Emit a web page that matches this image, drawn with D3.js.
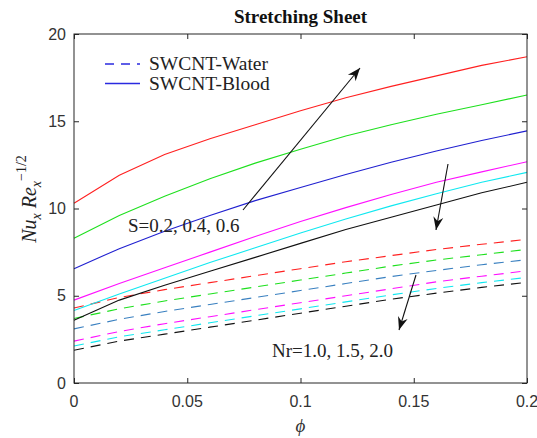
<!DOCTYPE html>
<html>
<head>
<meta charset="utf-8">
<script src="https://cdn.jsdelivr.net/npm/d3@7"></script>
<style>
  body { margin: 0; background: #fff; }
  svg { display: block; }
</style>
</head>
<body>
<div id="chart"></div>
<script>
// volume fraction values along the x axis
const phi = [0, 0.02, 0.04, 0.06, 0.08, 0.1, 0.12, 0.14, 0.16, 0.18, 0.2];

// SWCNT-Blood (solid lines)
const bloodRed     = [10.3, 11.9, 13.1, 14.0, 14.8, 15.6, 16.35, 17.0, 17.6, 18.2, 18.7];
const bloodGreen   = [8.3, 9.6, 10.7, 11.7, 12.6, 13.4, 14.15, 14.8, 15.4, 15.95, 16.5];
const bloodBlue    = [6.55, 7.7, 8.7, 9.6, 10.45, 11.2, 11.95, 12.65, 13.3, 13.9, 14.45];
const bloodMagenta = [4.75, 5.7, 6.6, 7.5, 8.4, 9.25, 10.05, 10.8, 11.5, 12.1, 12.68];
const bloodCyan    = [4.15, 5.1, 6.0, 6.9, 7.75, 8.6, 9.4, 10.15, 10.85, 11.5, 12.07];
const bloodBlack   = [3.6, 4.75, 5.6, 6.4, 7.2, 8.0, 8.8, 9.5, 10.2, 10.9, 11.5];

// SWCNT-Water (dashed lines)
const waterRed     = [4.3, 4.9, 5.35, 5.75, 6.15, 6.55, 6.95, 7.3, 7.65, 7.95, 8.23];
const waterGreen   = [3.7, 4.25, 4.7, 5.1, 5.5, 5.9, 6.3, 6.7, 7.05, 7.35, 7.66];
const waterBlue    = [3.1, 3.65, 4.1, 4.5, 4.9, 5.3, 5.7, 6.1, 6.45, 6.78, 7.07];
const waterMagenta = [2.4, 2.95, 3.4, 3.8, 4.2, 4.6, 5.0, 5.4, 5.8, 6.12, 6.43];
const waterCyan    = [2.12, 2.65, 3.05, 3.45, 3.85, 4.25, 4.65, 5.05, 5.42, 5.75, 6.05];
const waterBlack   = [1.88, 2.4, 2.8, 3.2, 3.6, 4.0, 4.4, 4.8, 5.15, 5.48, 5.77];

const xTicks = [0, 0.05, 0.1, 0.15, 0.2];
const xTickLabels = ["0", "0.05", "0.1", "0.15", "0.2"];
const yTicks = [0, 5, 10, 15, 20];

const legendLabels = ["SWCNT-Water", "SWCNT-Blood"];

const width = 537, height = 438;
const margin = { top: 34, right: 10, bottom: 55, left: 74 };

const series = [
  { values: waterRed, color: "#ff2020", dashed: true },
  { values: waterGreen, color: "#1ee01e", dashed: true },
  { values: waterBlue, color: "#3a80c0", dashed: true },
  { values: waterMagenta, color: "#ff10ff", dashed: true },
  { values: waterCyan, color: "#10e8f0", dashed: true },
  { values: waterBlack, color: "#111111", dashed: true },
  { values: bloodRed, color: "#ff2020", dashed: false },
  { values: bloodGreen, color: "#1ee01e", dashed: false },
  { values: bloodBlue, color: "#2020d0", dashed: false },
  { values: bloodMagenta, color: "#ff10ff", dashed: false },
  { values: bloodCyan, color: "#10e8f0", dashed: false },
  { values: bloodBlack, color: "#111111", dashed: false }
];

const svg = d3.select("#chart")
  .append("svg")
  .attr("width", width)
  .attr("height", height);

const xScale = d3.scaleLinear()
  .domain([0, 0.2])
  .range([margin.left, width - margin.right]);

const yScale = d3.scaleLinear()
  .domain([0, 20])
  .range([height - margin.bottom, margin.top]);

const serif = "'Liberation Serif', 'Times New Roman', serif";
const sans = "'Liberation Sans', Arial, sans-serif";
const axisColor = "#262626";

// curves
const line = d3.line()
  .x((d, i) => xScale(phi[i]))
  .y(d => yScale(d));

svg.selectAll(".curve")
  .data(series)
  .enter().append("path")
  .attr("class", "curve")
  .attr("d", d => line(d.values))
  .attr("fill", "none")
  .attr("stroke", d => d.color)
  .attr("stroke-width", 1.1)
  .attr("stroke-dasharray", d => d.dashed ? "10,7" : null);

// box axes with inward ticks on all sides
const x0 = xScale.range()[0], x1 = xScale.range()[1];
const y0 = yScale.range()[0], y1 = yScale.range()[1];

svg.append("g")
  .attr("transform", `translate(0,${y0})`)
  .call(d3.axisTop(xScale).tickValues(xTicks).tickSize(5).tickFormat(""))
  .call(g => g.select(".domain").remove());
svg.append("g")
  .attr("transform", `translate(0,${y1})`)
  .call(d3.axisBottom(xScale).tickValues(xTicks).tickSize(5).tickFormat(""))
  .call(g => g.select(".domain").remove());
svg.append("g")
  .attr("transform", `translate(${x0},0)`)
  .call(d3.axisRight(yScale).tickValues(yTicks).tickSize(5).tickFormat(""))
  .call(g => g.select(".domain").remove());
svg.append("g")
  .attr("transform", `translate(${x1},0)`)
  .call(d3.axisLeft(yScale).tickValues(yTicks).tickSize(5).tickFormat(""))
  .call(g => g.select(".domain").remove());

svg.selectAll(".tick line").attr("stroke", axisColor);

svg.append("rect")
  .attr("x", x0)
  .attr("y", y1)
  .attr("width", x1 - x0)
  .attr("height", y0 - y1)
  .attr("fill", "none")
  .attr("stroke", axisColor)
  .attr("stroke-width", 1);

// tick labels
svg.selectAll(".x-label")
  .data(xTicks)
  .enter().append("text")
  .attr("class", "x-label")
  .attr("x", d => xScale(d))
  .attr("y", y0 + 24)
  .attr("text-anchor", "middle")
  .style("font-family", sans)
  .style("font-size", "16px")
  .attr("fill", "#333")
  .text((d, i) => xTickLabels[i]);

svg.selectAll(".y-label")
  .data(yTicks)
  .enter().append("text")
  .attr("class", "y-label")
  .attr("x", x0 - 8)
  .attr("y", d => yScale(d))
  .attr("dy", "0.35em")
  .attr("text-anchor", "end")
  .style("font-family", sans)
  .style("font-size", "16px")
  .attr("fill", "#333")
  .text(d => d);

// title
svg.append("text")
  .attr("x", (x0 + x1) / 2)
  .attr("y", 23)
  .attr("text-anchor", "middle")
  .style("font-family", serif)
  .style("font-size", "19px")
  .style("font-weight", "bold")
  .attr("fill", "#111")
  .text("Stretching Sheet");

// x axis title
svg.append("text")
  .attr("x", (x0 + x1) / 2)
  .attr("y", 432)
  .attr("text-anchor", "middle")
  .style("font-family", serif)
  .style("font-size", "19px")
  .style("font-style", "italic")
  .attr("fill", "#333")
  .text("ϕ");

// y axis title
const yTitle = svg.append("text")
  .attr("transform", `translate(36,199) rotate(-90)`)
  .attr("text-anchor", "middle")
  .style("font-family", serif)
  .style("font-size", "20px")
  .style("font-style", "italic")
  .attr("fill", "#222");
yTitle.append("tspan").text("Nu");
yTitle.append("tspan").attr("dy", 5).style("font-size", "14px").text("x");
yTitle.append("tspan").attr("dy", -5).text(" Re");
yTitle.append("tspan").attr("dy", 5).style("font-size", "14px").text("x");
yTitle.append("tspan").attr("dy", -15).style("font-size", "14px").style("font-style", "normal").text("−1/2");

// legend
const legend = svg.append("g");
legendLabels.forEach((label, i) => {
  const ly = 64 + i * 19.5;
  legend.append("line")
    .attr("x1", 105).attr("x2", 140)
    .attr("y1", ly).attr("y2", ly)
    .attr("stroke", "#2a2ae0")
    .attr("stroke-width", 1.3)
    .attr("stroke-dasharray", i === 0 ? "9,7" : null);
  legend.append("text")
    .attr("x", 149)
    .attr("y", ly + 6)
    .style("font-family", serif)
    .style("font-size", "19.5px")
    .attr("fill", "#222")
    .text(label);
});

// annotation arrows
function arrow(xa, ya, xb, yb) {
  svg.append("line")
    .attr("x1", xa).attr("y1", ya)
    .attr("x2", xb).attr("y2", yb)
    .attr("stroke", "#111")
    .attr("stroke-width", 1.1);
  const ang = Math.atan2(yb - ya, xb - xa);
  const len = 13, half = 5, notch = 9;
  const ux = Math.cos(ang), uy = Math.sin(ang);
  const px = -uy, py = ux;
  const pts = [
    [xb, yb],
    [xb - ux * len + px * half, yb - uy * len + py * half],
    [xb - ux * notch, yb - uy * notch],
    [xb - ux * len - px * half, yb - uy * len - py * half]
  ];
  svg.append("path")
    .attr("d", "M" + pts.map(p => p.join(",")).join("L") + "Z")
    .attr("fill", "#111");
}

arrow(243, 210, 360, 68);
arrow(448, 164, 436, 230);
arrow(416, 275, 399, 330);

// annotation labels
svg.append("text")
  .attr("x", 128)
  .attr("y", 232)
  .style("font-family", serif)
  .style("font-size", "19px")
  .attr("fill", "#222")
  .text("S=0.2, 0.4, 0.6");

svg.append("text")
  .attr("x", 272)
  .attr("y", 357)
  .style("font-family", serif)
  .style("font-size", "19px")
  .attr("fill", "#222")
  .text("Nr=1.0, 1.5, 2.0");
</script>
</body>
</html>
